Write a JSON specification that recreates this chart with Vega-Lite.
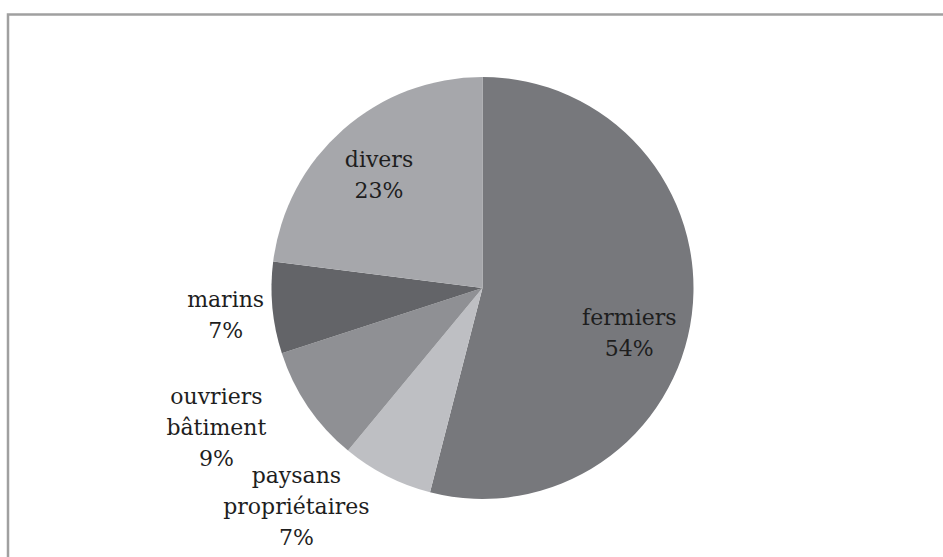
{
  "$schema": "https://vega.github.io/schema/vega-lite/v6.json",
  "autosize": "none",
  "width": 949,
  "height": 547,
  "padding": {"left": 8, "top": 14.5, "right": -14, "bottom": -4.5},
  "background": "white",
  "view": {"stroke": "#a0a0a0", "strokeWidth": 2.5, "fill": "white"},
  "config": {
    "view": {"stroke": "#a0a0a0", "strokeWidth": 2.5},
    "text": {"font": "DejaVu Serif", "fontSize": 22, "lineHeight": 31, "color": "#1e1e1e", "lineBreak": "\n", "align": "center", "baseline": "middle"}
  },
  "data": {
    "values": [
      {"cat": "fermiers", "label": "fermiers\n54%", "value": 54, "rank": 1},
      {"cat": "paysans propriétaires", "label": "paysans\npropriétaires\n7%", "value": 7, "rank": 2},
      {"cat": "ouvriers bâtiment", "label": "ouvriers\nbâtiment\n9%", "value": 9, "rank": 3},
      {"cat": "marins", "label": "marins\n7%", "value": 7, "rank": 4},
      {"cat": "divers", "label": "divers\n23%", "value": 23, "rank": 5}
    ]
  },
  "encoding": {
    "theta": {"field": "value", "type": "quantitative", "stack": true},
    "order": {"field": "rank", "type": "quantitative"},
    "detail": {"field": "cat", "type": "nominal"}
  },
  "layer": [
    {
      "mark": {"type": "arc", "outerRadius": 211},
      "encoding": {
        "color": {
          "field": "cat", "type": "nominal", "legend": null,
          "scale": {
            "domain": ["fermiers", "paysans propriétaires", "ouvriers bâtiment", "marins", "divers"],
            "range": ["#77787c", "#bebfc3", "#8f9094", "#636468", "#a6a7ab"]
          }
        }
      }
    },
    {
      "mark": {"type": "text", "radius": 153, "dx": -5, "dy": 10.5},
      "encoding": {"text": {"condition": {"test": "datum.cat === 'fermiers'", "field": "label"}, "value": ""}}
    },
    {
      "mark": {"type": "text", "radius": 280, "dx": -59, "dy": -61},
      "encoding": {"text": {"condition": {"test": "datum.cat === 'paysans propriétaires'", "field": "label"}, "value": ""}}
    },
    {
      "mark": {"type": "text", "radius": 300, "dx": -18, "dy": -60},
      "encoding": {"text": {"condition": {"test": "datum.cat === 'ouvriers bâtiment'", "field": "label"}, "value": ""}}
    },
    {
      "mark": {"type": "text", "radius": 258, "dy": -12.5},
      "encoding": {"text": {"condition": {"test": "datum.cat === 'marins'", "field": "label"}, "value": ""}}
    },
    {
      "mark": {"type": "text", "radius": 152, "dx": -3, "dy": -13.5},
      "encoding": {"text": {"condition": {"test": "datum.cat === 'divers'", "field": "label"}, "value": ""}}
    }
  ]
}
